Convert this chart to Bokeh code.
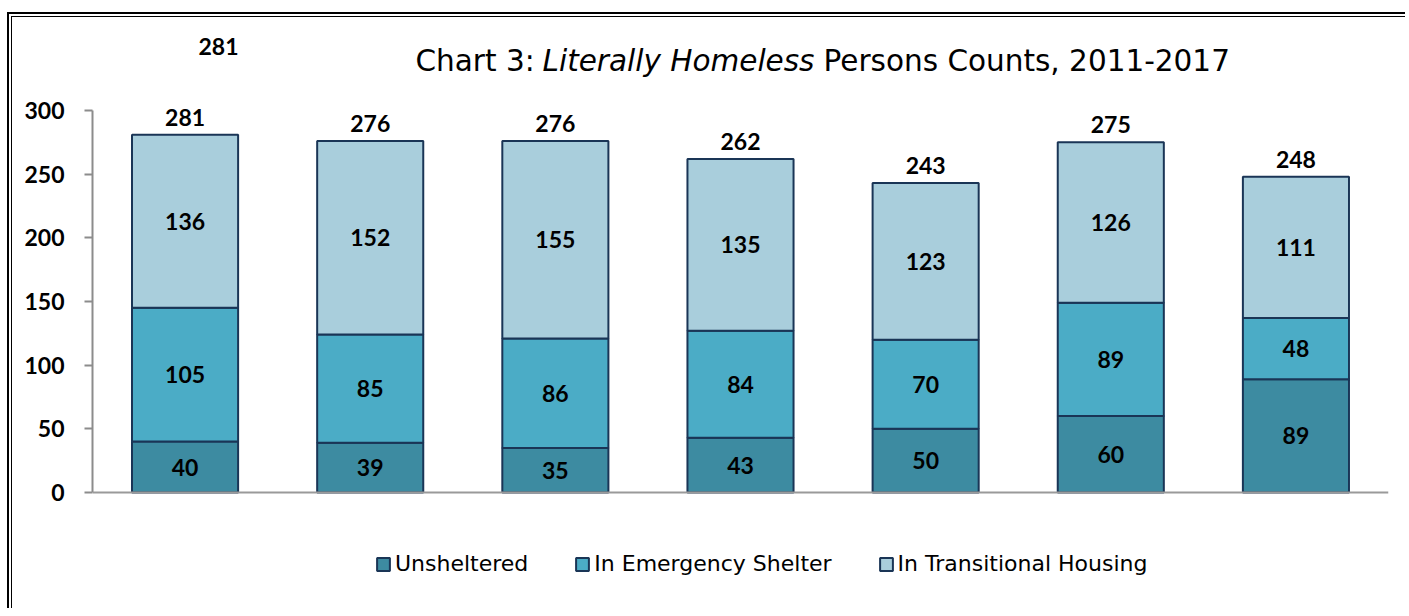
import numpy as np
from bokeh.plotting import figure
from bokeh.models import (ColumnDataSource, FactorRange, Range1d, FixedTicker,
                          Label, Legend, Span)
from bokeh.core.properties import value
from bokeh.embed import file_html
from bokeh.resources import INLINE

years = ["2011", "2012", "2013", "2014", "2015", "2016", "2017"]
unsheltered = [40, 39, 35, 43, 50, 60, 89]
emergency = [105, 85, 86, 84, 70, 89, 48]
transitional = [136, 152, 155, 135, 123, 126, 111]
series_names = ["Unsheltered", "In Emergency Shelter", "In Transitional Housing"]
y_ticks = [0, 50, 100, 150, 200, 250, 300]
colors = ["#3D8BA1", "#4BACC6", "#A9CEDC"]
edge = "#1A3556"

u = np.array(unsheltered)
e = np.array(emergency)
t = np.array(transitional)
totals = u + e + t

src = ColumnDataSource(dict(
    x=years, u=unsheltered, e=emergency, t=transitional,
    mu=u / 2, me=u + e / 2, mt=u + e + t / 2, tot=totals,
    lu=[str(v) for v in u], le=[str(v) for v in e], lt=[str(v) for v in t],
    ltot=[str(v) for v in totals],
))

W, H = 1405, 608
p = figure(width=W, height=H, x_range=FactorRange(*years),
           y_range=Range1d(-91.1, 386.4), output_backend="svg",
           toolbar_location=None,
           min_border_left=92, min_border_right=17, min_border_top=0,
           min_border_bottom=0)
p.border_fill_color = None
p.background_fill_color = None
p.styles = {
    "background-image": ("linear-gradient(#000,#000), linear-gradient(#000,#000), "
                         "linear-gradient(#000,#000), linear-gradient(#000,#000)"),
    "background-size": "2px 100%, 1px 100%, 100% 2px, 100% 1px",
    "background-position": "7px 12px, 11px 16px, 7px 12px, 11px 16px",
    "background-repeat": "no-repeat",
}

p.outline_line_color = None
p.xgrid.grid_line_color = None
p.ygrid.grid_line_color = None
p.x_range.range_padding = 0

renderers = p.vbar_stack(["u", "e", "t"], x="x", width=0.573, source=src,
                         color=colors, line_color=edge, line_width=2)

p.add_layout(Span(location=0, dimension="width", line_color="#9A9A9A",
                  line_width=2))

label_font = value("Lato")
for col, lab in [("mu", "lu"), ("me", "le"), ("mt", "lt")]:
    p.text(x="x", y=col, text=lab, source=src, text_align="center",
           text_baseline="middle", text_font=label_font, text_font_size="23px",
           text_font_style="bold", text_color="black")
p.text(x="x", y="tot", text="ltot", source=src, text_align="center",
       text_baseline="bottom", y_offset=-9, text_font=label_font,
       text_font_size="23px", text_font_style="bold", text_color="black")

# stray label top-left
p.add_layout(Label(x=126, y=562, x_units="screen", y_units="screen",
                   text=str(totals[0]), text_align="center",
                   text_baseline="alphabetic", text_font="Lato",
                   text_font_size="23px", text_font_style="bold",
                   text_color="black"))

# title in pieces
tf = "DejaVu Sans"
ty = 548
p.add_layout(Label(x=323, y=ty, x_units="screen", y_units="screen",
                   text="Chart 3:", text_font=tf, text_font_size="29.5px",
                   text_baseline="alphabetic", text_align="left",
                   text_color="black"))
p.add_layout(Label(x=450, y=ty, x_units="screen", y_units="screen",
                   text="Literally Homeless", text_font=tf,
                   text_font_size="29.5px", text_font_style="italic",
                   text_baseline="alphabetic", text_align="left",
                   text_color="black"))
p.add_layout(Label(x=731, y=ty, x_units="screen", y_units="screen",
                   text="Persons Counts, 2011-2017", text_font=tf,
                   text_font_size="29.5px", text_baseline="alphabetic",
                   text_align="left", text_color="black"))

# axes
p.xaxis.visible = False
p.yaxis.bounds = (0, 300)
p.yaxis.ticker = FixedTicker(ticks=y_ticks)
p.yaxis.axis_line_color = "#8C8C8C"
p.yaxis.axis_line_width = 2
p.yaxis.major_tick_line_color = "#8C8C8C"
p.yaxis.major_tick_line_width = 2
p.yaxis.major_tick_out = 8
p.yaxis.major_tick_in = 0
p.yaxis.minor_tick_line_color = None
p.yaxis.major_label_text_font = "Lato"
p.yaxis.major_label_text_font_style = "bold"
p.yaxis.major_label_text_font_size = "23px"
p.yaxis.major_label_text_color = "black"
p.yaxis.major_label_standoff = 20

legend = Legend(items=[(n, [r]) for n, r in zip(series_names, renderers)],
                orientation="horizontal", location=(283, 32),
                glyph_width=16, glyph_height=16, label_standoff=4, spacing=46,
                padding=0, margin=0, border_line_color=None,
                background_fill_alpha=0, label_text_font="DejaVu Sans",
                label_text_font_size="22px", label_text_color="black")
p.add_layout(legend, "center")

open("out.html", "w").write(file_html(p, INLINE))
